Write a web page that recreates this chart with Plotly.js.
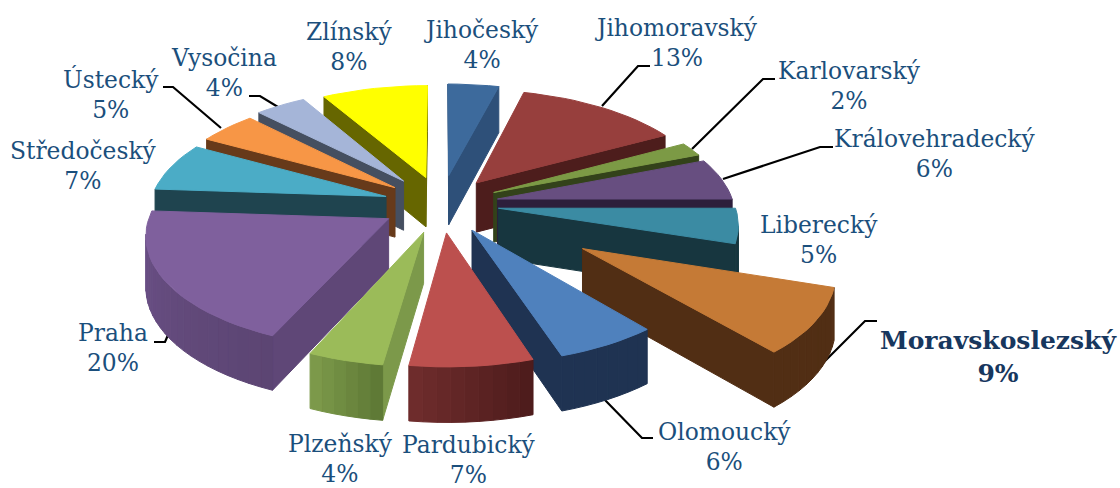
<!DOCTYPE html>
<html><head><meta charset="utf-8">
<script src="https://cdn.plot.ly/plotly-3.0.1.min.js"></script>
<style>html,body{margin:0;padding:0;background:#fff}#c{width:1120px;height:488px}</style>
</head><body><div id="c"></div>
<script>
// --- data (slice sizes estimated; labels show them rounded) ---
const categories = ["Jihočeský","Jihomoravský","Karlovarský","Královehradecký","Liberecký","Moravskoslezský","Olomoucký","Pardubický","Plzeňský","Praha","Středočeský","Ústecký","Vysočina","Zlínský"];
const shares = [4,13,2,6,5,9,6,7.2,4.4,19.5,7,4.6,4,8.3];
// --- slice offsets from the pie centre, fraction of radius ---
const explode = [0.27,0.25,0.25,0.245,0.245,0.69,0.265,0.257,0.262,0.255,0.245,0.25,0.27,0.257];
// --- colours ---
const topColors  = ["#3d6a9c","#973f3d","#7c9a45","#674e80","#3b8ba3","#c57a36","#4f81bd","#bc504e","#9bbb59","#7f609d","#4bacc6","#f79646","#a5b5d8","#ffff00"];
const sideColors = ["#2e5079","#4d1d1c","#33421a","#2d1f3b","#17363f","#512e14","#1f3352","#5a2222","#7c994a","#5f4777","#1f444f","#673a1a","#454f60","#666600"];
const rimStart   = ["#2e5079","#4d1d1c","#33421a","#2d1f3b","#17363f","#512e14","#1f3352","#4e1c1c","#5f7a36","#5c4573","#1f444f","#673a1a","#454f60","#666600"];
const rimEnd     = ["#2e5079","#4d1d1c","#33421a","#2d1f3b","#17363f","#512e14","#1f3352","#6e2c2c","#7c994a","#6c5188","#1f444f","#673a1a","#454f60","#666600"];
const labelColor = "#1b4f7c";
// --- label placement (x centre, y centre of block) ---
const labelX = [481,676,849,935,819,998,724,469,340,113,83,111,224,349];
const labelY = [45,43,86,154,240,357,447,460,459,348,166,94,73,47];
// --- leader lines, drawn in the plot's pixel-sized axes ---
const leaders = [
 [[602,638,650],[106,66,66]],
 [[692,763,775],[149,79,79]],
 [[723,820,833],[179,147,147]],
 [[808,865,877],[378,321,321]],
 [[603,642,653],[398,438,438]],
 [[154,165,168],[342,342,335]],
 [[163,173,221],[87,87,128]],
 [[249,260,278],[96,96,107]]
];
// --- projection model ---
const CX=441, CY=204, RX=236, RY=109.5, K=0.124, DEPTH=50;
function project(X,Y){const s=1/(1+K*Y);return {x:CX+RX*X*s,y:CY-RY*Y*s,s:s};}
function drop(p){return p.y+DEPTH*(1+0.6*(p.s-1));}
function hex(c){return [1,3,5].map(i=>parseInt(c.substr(i,2),16));}
function mix(a,b,t){const A=hex(a),B=hex(b);return "rgb("+A.map((v,i)=>Math.round(v+(B[i]-v)*t)).join(",")+")";}

const total=shares.reduce((a,b)=>a+b,0);
let acc=0;
const slices=shares.map((v,i)=>{
  const t1=acc/total*2*Math.PI; acc+=v; const t2=acc/total*2*Math.PI;
  const tm=(t1+t2)/2, ox=explode[i]*Math.sin(tm), oy=explode[i]*Math.cos(tm);
  const apex=project(ox,oy), rim=[];
  const n=Math.max(3,Math.ceil((t2-t1)/(Math.PI/60)));
  for(let j=0;j<=n;j++){const t=t1+(t2-t1)*j/n;rim.push(project(ox+Math.sin(t),oy+Math.cos(t)));}
  return {i,apex,rim,sortY:oy+0.5*Math.cos(tm)};
});
slices.sort((a,b)=>b.sortY-a.sortY);

const traces=[];
leaders.forEach(l=>traces.push({type:"scatter",mode:"lines",x:l[0],y:l[1],line:{color:"#000",width:2.2},hoverinfo:"skip",showlegend:false}));
function poly(xs,ys,color){traces.push({type:"scatter",mode:"lines",x:xs,y:ys,fill:"toself",fillcolor:color,line:{color:color,width:1},hoverinfo:"skip",showlegend:false});}
function wall(a,b,color){poly([a.x,b.x,b.x,a.x,a.x],[a.y,b.y,drop(b),drop(a),a.y],color);}
slices.forEach(s=>{
  const i=s.i,r=s.rim,last=r[r.length-1];
  if(r[0].x<s.apex.x) wall(s.apex,r[0],sideColors[i]);
  if(s.apex.x<last.x) wall(last,s.apex,sideColors[i]);
  for(let j=0;j<r.length-1;j++){ if(r[j+1].x<r[j].x) wall(r[j],r[j+1],mix(rimStart[i],rimEnd[i],j/(r.length-2))); }
  poly([s.apex.x].concat(r.map(p=>p.x),[s.apex.x]),[s.apex.y].concat(r.map(p=>p.y),[s.apex.y]),topColors[i]);
});

const annotations=categories.map((c,i)=>{
  const bold=c==="Moravskoslezský";
  const t=c+"<br>"+Math.round(shares[i])+"%";
  return {xref:"x",yref:"y",x:labelX[i],y:labelY[i],xanchor:"center",yanchor:"middle",showarrow:false,align:"center",
    text:bold?"<b>"+t+"</b>":t,font:{family:"DejaVu Serif",size:bold?25:23.4,color:bold?"#17375e":labelColor}};
});
Plotly.newPlot("c",traces,{width:1120,height:488,margin:{l:0,r:0,t:0,b:0},paper_bgcolor:"#fff",plot_bgcolor:"#fff",
  xaxis:{range:[0,1120],visible:false,fixedrange:true},yaxis:{range:[488,0],visible:false,fixedrange:true},showlegend:false,annotations},{displayModeBar:false,staticPlot:true});
</script></body></html>
